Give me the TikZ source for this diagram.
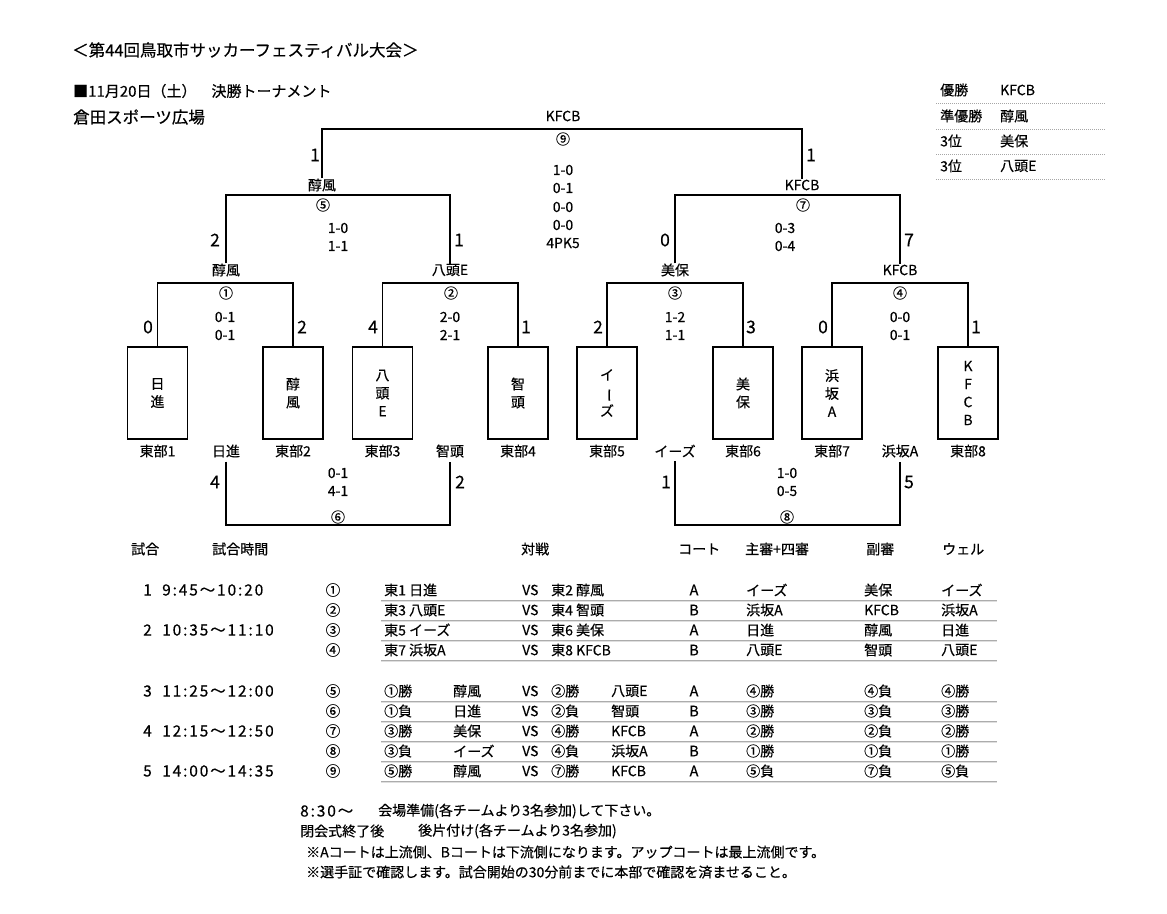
\documentclass[tikz,border=0pt]{standalone}
\usepackage{fontspec}
\usepackage{graphicx}
\setmainfont{Noto Sans CJK JP}[FakeBold=0.4]
\newfontfamily\timefont[LetterSpace=12,FakeBold=0.4]{Noto Sans CJK JP}
\tikzset{
  txt/.style={inner sep=0pt, font=\fontsize{14}{16}\selectfont},
  ttl/.style={inner sep=0pt, anchor=west, font=\fontsize{16.5}{18}\selectfont},
  hdr/.style={inner sep=0pt, anchor=west, font=\fontsize{15}{16}\selectfont},
  num/.style={inner sep=0pt, font=\fontsize{17.5}{18}\selectfont},
  score/.style={inner sep=0pt, font=\fontsize{14}{14}\selectfont},
  circ/.style={inner sep=0pt, font=\fontsize{14}{14}\selectfont},
  tbox/.style={draw, line width=1.1pt, minimum width=60pt, minimum height=92pt, inner sep=0pt, align=center, font=\fontsize{14}{18}\selectfont},
  br/.style={line width=1.1pt},
  cell/.style={inner sep=0pt, anchor=west, font=\fontsize{14}{16}\selectfont},
  cellc/.style={inner sep=0pt, font=\fontsize{14.5}{16}\selectfont},
  tcell/.style={inner sep=0pt, anchor=west, font=\fontsize{15.5}{16}\timefont},
  ruleA/.style={gray!65, line width=1pt},
  ruleB/.style={gray!25, line width=1pt},
  dotrule/.style={gray!70, line width=1pt, dash pattern=on 1pt off 1pt},
}
\begin{document}
\begin{tikzpicture}[x=1pt,y=-1pt]
\fill[white] (0,0) rectangle (1167,913);
\useasboundingbox (0,0) rectangle (1167,913);

% ---- headings ----
\node[ttl] (title) at (72,50) {＜第44回鳥取市サッカーフェスティバル大会＞};
\node[hdr] (date) at (73,91) {■11月20日（土）　決勝トーナメント};
\node[ttl] (venue) at (73,117) {倉田スポーツ広場};

% ---- results ----
\node[cell] (res1a) at (940,90) {優勝};
\node[cell] (res1b) at (1000,90) {KFCB};
\node[cell] (res2a) at (940,116) {準優勝};
\node[cell] (res2b) at (1000,116) {醇風};
\node[cell] (res3a) at (940,141) {3位};
\node[cell] (res3b) at (1000,141) {美保};
\node[cell] (res4a) at (940,166) {3位};
\node[cell] (res4b) at (1000,166) {八頭E};
\foreach \y in {103,129,154,179} \draw[dotrule] (936,\y) -- (1105,\y);

% ---- team boxes ----
\node[tbox] (b1) at (157.5,393) {日\\進};
\node[tbox] (b2) at (293,393) {醇\\風};
\node[tbox] (b3) at (382.5,393) {八\\頭\\E};
\node[tbox] (b4) at (518,393) {智\\頭};
\node[tbox] (b5) at (607,393) {イ\\\rotatebox[origin=c]{-90}{ー}\\ズ};
\node[tbox] (b6) at (743,393) {美\\保};
\node[tbox] (b7) at (832,393) {浜\\坂\\A};
\node[tbox] (b8) at (968,393) {K\\F\\C\\B};

% ---- labels under boxes ----
\node[txt] (e1) at (157.5,451) {東部1};
\node[txt] (l1) at (226,451) {日進};
\node[txt] (e2) at (293,451) {東部2};
\node[txt] (e3) at (382.5,451) {東部3};
\node[txt] (l2) at (450,451) {智頭};
\node[txt] (e4) at (518,451) {東部4};
\node[txt] (e5) at (607,451) {東部5};
\node[txt] (l3) at (675,451) {イーズ};
\node[txt] (e6) at (743,451) {東部6};
\node[txt] (e7) at (832,451) {東部7};
\node[txt] (l4) at (900,451) {浜坂A};
\node[txt] (e8) at (968,451) {東部8};

% ---- first round ----
\coordinate (m1) at (226,283);
\coordinate (m2) at (450,283);
\coordinate (m3) at (675,283);
\coordinate (m4) at (900,283);
\draw[br] (b1.north) -- (b1.north |- m1) -- (b2.north |- m1) -- (b2.north);
\draw[br] (b3.north) -- (b3.north |- m2) -- (b4.north |- m2) -- (b4.north);
\draw[br] (b5.north) -- (b5.north |- m3) -- (b6.north |- m3) -- (b6.north);
\draw[br] (b7.north) -- (b7.north |- m4) -- (b8.north |- m4) -- (b8.north);
\node[circ] (c1) at (226,293) {①};
\node[circ] (c2) at (451,293) {②};
\node[circ] (c3) at (675,293) {③};
\node[circ] (c4) at (900,293) {④};
\node[num] (n1a) at (148,327) {0};
\node[num] (n1b) at (302,327) {2};
\node[num] (n2a) at (373,327) {4};
\node[num] (n2b) at (526,327) {1};
\node[num] (n3a) at (598,327) {2};
\node[num] (n3b) at (751,327) {3};
\node[num] (n4a) at (823,327) {0};
\node[num] (n4b) at (976,327) {1};
\node[score] (s1a) at (225,317) {0-1};
\node[score] (s1b) at (225,335) {0-1};
\node[score] (s2a) at (450,317) {2-0};
\node[score] (s2b) at (450,335) {2-1};
\node[score] (s3a) at (675,317) {1-2};
\node[score] (s3b) at (675,335) {1-1};
\node[score] (s4a) at (900,317) {0-0};
\node[score] (s4b) at (900,335) {0-1};

% ---- semi finals ----
\node[txt] (w1) at (226,270) {醇風};
\node[txt] (w2) at (450,270) {八頭E};
\node[txt] (w3) at (675,270) {美保};
\node[txt] (w4) at (900,270) {KFCB};
\coordinate (m5) at (338,195);
\coordinate (m7) at (787,195);
\draw[br] (w1.north) -- (w1.north |- m5) -- (w2.north |- m5) -- (w2.north);
\draw[br] (w3.north) -- (w3.north |- m7) -- (w4.north |- m7) -- (w4.north);
\node[circ] (c5) at (323,205) {⑤};
\node[circ] (c7) at (803,205) {⑦};
\node[num] (n5a) at (215,240) {2};
\node[num] (n5b) at (459,240) {1};
\node[num] (n7a) at (665,240) {0};
\node[num] (n7b) at (909,240) {7};
\node[score] (s5a) at (338,228) {1-0};
\node[score] (s5b) at (338,246) {1-1};
\node[score] (s7a) at (785,228) {0-3};
\node[score] (s7b) at (785,246) {0-4};

% ---- final ----
\node[txt] (w5) at (322,185) {醇風};
\node[txt] (w7) at (802,185) {KFCB};
\node[txt] (w9) at (563,116) {KFCB};
\coordinate (m9) at (563,129);
\draw[br] (w5.north) -- (w5.north |- m9) -- (w7.north |- m9) -- (w7.north);
\node[circ] (c9) at (563,139) {⑨};
\node[num] (n9a) at (315,155) {1};
\node[num] (n9b) at (811,155) {1};
\node[score] (s9a) at (563,170) {1-0};
\node[score] (s9b) at (563,188) {0-1};
\node[score] (s9c) at (563,207) {0-0};
\node[score] (s9d) at (563,225) {0-0};
\node[score] (s9e) at (563,243) {4PK5};

% ---- placement matches ----
\coordinate (m6) at (338,525);
\coordinate (m8) at (787,525);
\draw[br, shorten <=4pt, shorten >=4pt] (l1.south) -- (l1.south |- m6) -- (l2.south |- m6) -- (l2.south);
\draw[br, shorten <=4pt, shorten >=4pt] (l3.south) -- (l3.south |- m8) -- (l4.south |- m8) -- (l4.south);
\node[circ] (c6) at (338,517) {⑥};
\node[circ] (c8) at (787,517) {⑧};
\node[num] (n6a) at (215,482) {4};
\node[num] (n6b) at (460,482) {2};
\node[num] (n8a) at (666,482) {1};
\node[num] (n8b) at (909,482) {5};
\node[score] (s6a) at (338,473) {0-1};
\node[score] (s6b) at (338,491) {4-1};
\node[score] (s8a) at (787,473) {1-0};
\node[score] (s8b) at (787,491) {0-5};

% ---- schedule table ----
\node[cell] (h1) at (131,549) {試合};
\node[cell] (h2) at (212,549) {試合時間};
\node[cell] (h3) at (521,549) {対戦};
\node[cell] (h4) at (678,549) {コート};
\node[cell] (h5) at (745,549) {主審+四審};
\node[cell] (h6) at (866,549) {副審};
\node[cell] (h7) at (942,549) {ウェル};

\foreach \n/\y/\k/\t in {1/590/1/9:45〜10:20, 3/630/2/10:35〜11:10, 5/691/3/11:25〜12:00, 7/731/4/12:15〜12:50, 9/771/5/14:00〜14:35} {
  \node[tcell] (tk\n) at (143,\y) {\k};
  \node[tcell] (tt\n) at (162,\y) {\t};
}

\foreach \n/\y/\c/\a/\b/\ct/\r/\s/\w in {
  1/590/①/東1 日進/東2 醇風/A/イーズ/美保/イーズ,
  2/610/②/東3 八頭E/東4 智頭/B/浜坂A/KFCB/浜坂A,
  3/630/③/東5 イーズ/東6 美保/A/日進/醇風/日進,
  4/650/④/東7 浜坂A/東8 KFCB/B/八頭E/智頭/八頭E} {
  \node[cellc] (rc\n) at (333,\y) {\c};
  \node[cell] (ra\n) at (384,\y) {\a};
  \node[cell] (rv\n) at (522,\y) {VS};
  \node[cell] (rb\n) at (551,\y) {\b};
  \node[cellc] (rt\n) at (694,\y) {\ct};
  \node[cell] (rr\n) at (746,\y) {\r};
  \node[cell] (rs\n) at (864,\y) {\s};
  \node[cell] (rw\n) at (941,\y) {\w};
}

\foreach \n/\y/\c/\a/\aa/\b/\bb/\ct/\r/\s/\w in {
  5/691/⑤/①勝/醇風/②勝/八頭E/A/④勝/④負/④勝,
  6/711/⑥/①負/日進/②負/智頭/B/③勝/③負/③勝,
  7/731/⑦/③勝/美保/④勝/KFCB/A/②勝/②負/②勝,
  8/751/⑧/③負/イーズ/④負/浜坂A/B/①勝/①負/①勝,
  9/771/⑨/⑤勝/醇風/⑦勝/KFCB/A/⑤負/⑦負/⑤負} {
  \node[cellc] (rc\n) at (333,\y) {\c};
  \node[cell] (ra\n) at (384,\y) {\a};
  \node[cell] (rx\n) at (453,\y) {\aa};
  \node[cell] (rv\n) at (522,\y) {VS};
  \node[cell] (rb\n) at (551,\y) {\b};
  \node[cell] (ry\n) at (611,\y) {\bb};
  \node[cellc] (rt\n) at (694,\y) {\ct};
  \node[cell] (rr\n) at (746,\y) {\r};
  \node[cell] (rs\n) at (864,\y) {\s};
  \node[cell] (rw\n) at (941,\y) {\w};
}

\foreach \y in {600,620,640,660,701,721,741,761,781} {
  \draw[ruleA] (381,\y) -- (997,\y);
  \draw[ruleB] (381,\y+1.2) -- (997,\y+1.2);
}

% ---- notes ----
\node[tcell] (f1a) at (300,811) {8:30〜};
\node[cell] (f1b) at (378,811) {会場準備(各チームより3名参加)して下さい。};
\node[cell] (f2a) at (300,831) {閉会式終了後};
\node[cell] (f2b) at (418,831) {後片付け(各チームより3名参加)};
\node[cell] (f3) at (306,852) {※Aコートは上流側、Bコートは下流側になります。アップコートは最上流側です。};
\node[cell] (f4) at (306,872) {※選手証で確認します。試合開始の30分前までに本部で確認を済ませること。};
\end{tikzpicture}
\end{document}
